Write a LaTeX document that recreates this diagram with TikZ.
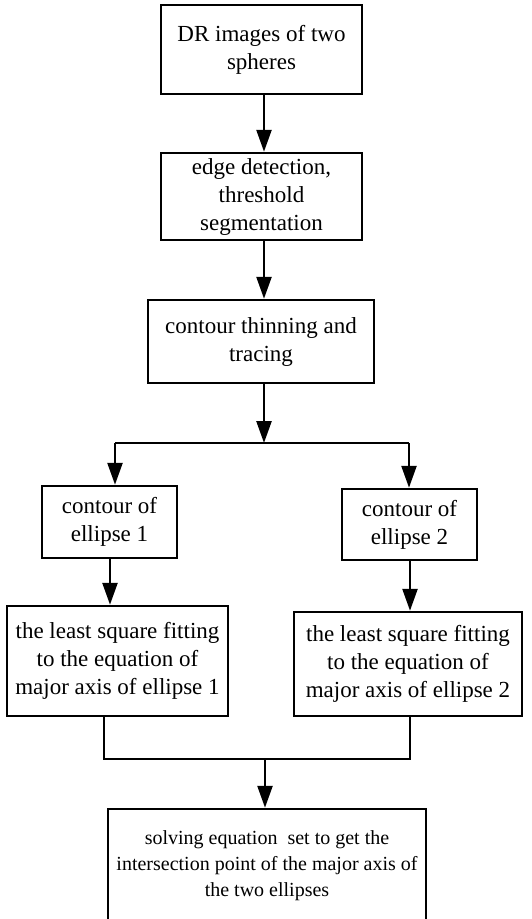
\documentclass[tikz,border=0pt]{standalone}
\usepackage{fontspec}
\setmainfont{Liberation Serif}
\usetikzlibrary{arrows.meta}
\tikzset{
  box/.style={draw=black, line width=2.5pt, align=center, inner sep=2pt,
    font=\fontsize{23}{28}\selectfont},
  conn/.style={line width=2.5pt},
  arr/.style={conn, -{Triangle[length=22pt,width=15pt]}}
}
\begin{document}
\begin{tikzpicture}[x=1pt,y=-1pt]
\useasboundingbox (0,0) rectangle (532,919);
\node[box, minimum width=201pt, minimum height=89pt] (b1) at (261.5,49.5) {DR images of two\\spheres};
\node[box, minimum width=201pt, minimum height=87pt] (b2) at (261.5,196.5) {edge detection,\\threshold\\segmentation};
\node[box, minimum width=226pt, minimum height=83pt] (b3) at (261,341.5) {contour thinning and\\tracing};
\node[box, minimum width=135pt, minimum height=72pt] (b4) at (109.5,522) {contour of\\ellipse 1};
\node[box, minimum width=135pt, minimum height=71pt] (b5) at (409.5,524.5) {contour of\\ellipse 2};
\node[box, minimum width=221pt, minimum height=110pt] (b6) at (117.5,661) {the least square fitting\\to the equation of\\major axis of ellipse 1};
\node[box, minimum width=228pt, minimum height=104pt] (b7) at (408,664) {the least square fitting\\to the equation of\\major axis of ellipse 2};
\node[box, minimum width=318pt, minimum height=114pt, font=\fontsize{20}{26}\selectfont] (b8) at (267,866) {solving equation\ \ set to get the\\intersection point of the major axis of\\the two ellipses};
\coordinate (s) at (264,443);
\coordinate (sl) at (115,443);
\coordinate (sr) at (409,443);
\coordinate (ml) at (104,759);
\coordinate (mr) at (410,759);
\coordinate (m) at (265,759);
\coordinate (a1) at (264,94);
\draw[arr] (a1) -- (a1 |- b2.north);
\draw[arr] (a1 |- b2.south) -- (a1 |- b3.north);
\draw[arr] (s |- b3.south) -- (s);
\draw[conn] (sl) -- (sr);
\draw[arr] (sl) -- (sl |- b4.north);
\draw[arr] (sr) -- (sr |- b5.north);
\draw[arr] (b4.south -| 110,0) -- (b6.north -| 110,0);
\draw[arr] (b5.south -| 410,0) -- (b7.north -| 410,0);
\draw[conn] (ml |- b6.south) -- (ml) -- (mr) -- (mr |- b7.south);
\draw[arr] (m) -- (m |- b8.north);
\end{tikzpicture}
\end{document}
